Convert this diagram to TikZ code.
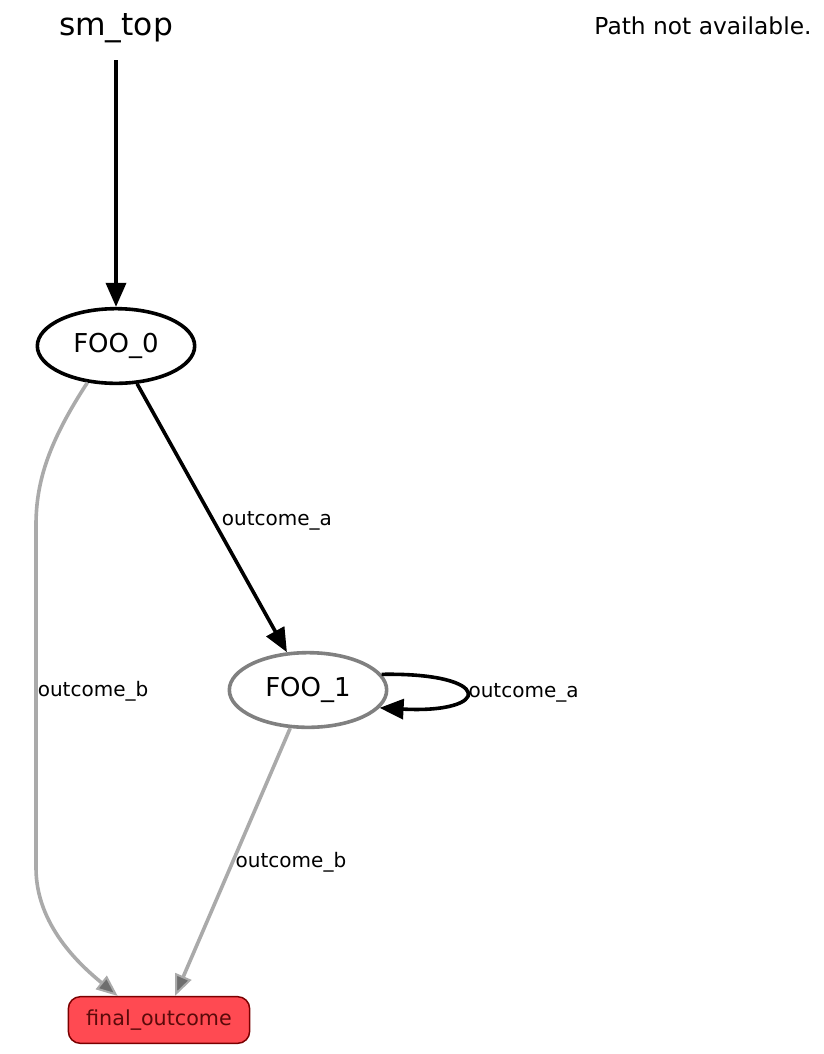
\documentclass[tikz,border=0pt]{standalone}
\usepackage{fontspec}
\setmainfont{DejaVu Sans}
\usetikzlibrary{shapes.geometric, arrows.meta}
\definecolor{outfill}{HTML}{FF4A52}
\definecolor{outline}{HTML}{7A0000}
\definecolor{outtext}{HTML}{5A0A0A}
\definecolor{edgegray}{HTML}{AAAAAA}
\definecolor{tipgray}{HTML}{6E6E6E}

\begin{document}
\begin{tikzpicture}[x=0.75pt, y=-0.75pt,
    state/.style={draw, ellipse, line width=2.7pt, minimum width=118pt, minimum height=56pt, inner sep=0pt, font=\fontsize{19.5}{23}\selectfont},
    outcomebox/.style={draw=outline, fill=outfill, text=outtext, rounded corners=9pt, line width=1.1pt, minimum width=136pt, minimum height=35pt, inner sep=0pt, font=\fontsize{15.5}{18}\selectfont},
    lbl/.style={font=\fontsize{15}{18}\selectfont, inner sep=1pt, anchor=west},
    tr/.style={line width=2.7pt, -{Triangle[length=18pt,width=15pt]}},
    trb/.style={line width=2.7pt, draw=edgegray, -{Triangle[length=16pt,width=13pt,line width=1.5pt,fill=tipgray]}}]
    \useasboundingbox (0,0) rectangle (824,1054);

    \node (top) at (116,28) {\fontsize{23.5}{28}\selectfont sm\_top};
    \node at (703,26) {\fontsize{17.5}{21}\selectfont Path not available.};

    \node[state] (foo0) at (116,346) {FOO\_0};
    \node[state, draw=black!50] (foo1) at (308,690) {FOO\_1};
    \node[outcomebox] (final) at (159,1020) {final\_outcome};

    \draw[tr] (top.south) ++(0,13) -- (foo0);
    \draw[tr] (foo0) -- node[lbl, pos=0.51, xshift=4pt] {outcome\_a} (foo1);
    \draw[tr] (foo1.12) .. controls +(113,-2) and +(113,6) .. node[lbl, pos=0.5] {outcome\_a} (foo1.-14);

    \draw[trb] (foo0.232) .. controls (50,440) and (36,480) .. (36,525)
        -- node[lbl, pos=0.485, inner sep=0pt] {outcome\_b} (36,868)
        .. controls (36,925) and (80,965) .. ([xshift=-31pt]final.north);
    \draw[trb] (foo1.245) -- node[lbl, pos=0.5] {outcome\_b} ([xshift=12pt]final.north);
\end{tikzpicture}
\end{document}
